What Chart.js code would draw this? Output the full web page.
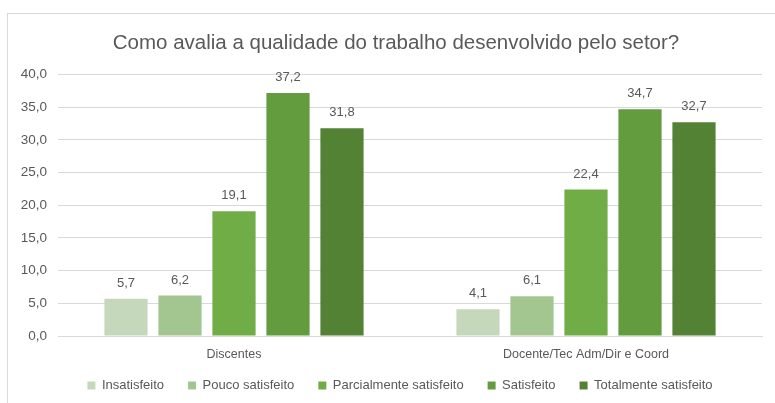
<!DOCTYPE html>
<html>
<head>
<meta charset="utf-8">
<script src="https://cdn.jsdelivr.net/npm/chart.js@4.4.0/dist/chart.umd.min.js"></script>
<style>
  html, body { margin: 0; padding: 0; background: #fff; }
  #wrap { width: 775px; height: 403px; }
</style>
</head>
<body>
<div id="wrap"><canvas id="graph" width="775" height="403"></canvas></div>
<script>
// chart data
let categories = ["Discentes", "Docente/Tec Adm/Dir e Coord"];
let seriesNames = ["Insatisfeito", "Pouco satisfeito", "Parcialmente satisfeito", "Satisfeito", "Totalmente satisfeito"];
let insatisfeito = [5.7, 4.1];
let poucoSatisfeito = [6.2, 6.1];
let parcialmente = [19.1, 22.4];
let satisfeito = [37.2, 34.7];
let totalmente = [31.8, 32.7];
let seriesColors = ["#C5D8BC", "#A3C690", "#70AD47", "#639B3F", "#548235"];

let txtColor = "#595959";
let fontName = "'Liberation Sans', Arial, sans-serif";

function fmt(v) {
    return v.toFixed(1).replace(".", ",");
}

// values written above each bar
let barLabels = {
    id: "barLabels",
    afterDatasetsDraw(chart) {
        let ctx = chart.ctx;
        ctx.save();
        ctx.fillStyle = txtColor;
        ctx.font = "13px " + fontName;
        ctx.textAlign = "center";
        ctx.textBaseline = "bottom";
        chart.data.datasets.forEach(function(ds, i) {
            chart.getDatasetMeta(i).data.forEach(function(bar, j) {
                ctx.fillText(fmt(ds.data[j]), bar.x, bar.y - 9);
            });
        });
        ctx.restore();
    }
};

// outer frame of the chart
let frame = {
    id: "frame",
    beforeDraw(chart) {
        let ctx = chart.ctx;
        ctx.save();
        ctx.fillStyle = "#fff";
        ctx.fillRect(0, 0, chart.width, chart.height);
        ctx.strokeStyle = "#D9D9D9";
        ctx.lineWidth = 1;
        ctx.strokeRect(7.5, 13.5, chart.width + 10, chart.height + 10);
        ctx.restore();
    }
};

// tighten the legend box and move title/legend so they center like the original
let legendShift = 10;
let boxTweak = {
    id: "boxTweak",
    afterInit(chart) {
        let leg = chart.legend;
        let origFit = leg.fit;
        leg.fit = function() {
            origFit.call(this);
            this.height = this.height - legendShift;
        };
    },
    afterLayout(chart) {
        chart.legend.top -= legendShift;
        chart.legend.bottom -= legendShift;
        chart.legend.left += 26;
        chart.titleBlock.left += 18;
    }
};

let allData = [insatisfeito, poucoSatisfeito, parcialmente, satisfeito, totalmente];

let data = {
    labels: categories,
    datasets: seriesNames.map(function(name, i) {
        return {
            label: name,
            data: allData[i],
            backgroundColor: seriesColors[i],
            categoryPercentage: 0.767,
            barPercentage: 0.8
        };
    })
};

let options = {
    responsive: false,
    animation: false,
    layout: { padding: { left: 12, right: 13, top: 31, bottom: 1 } },
    plugins: {
        title: {
            display: true,
            text: "Como avalia a qualidade do trabalho desenvolvido pelo setor?",
            color: txtColor,
            font: { family: fontName, size: 20.5, weight: "normal" },
            padding: { top: 0, bottom: 19 }
        },
        legend: {
            position: "bottom",
            labels: {
                color: txtColor,
                font: { family: fontName, size: 13 },
                boxWidth: 8,
                boxHeight: 8,
                padding: 24
            }
        },
        tooltip: { enabled: false }
    },
    scales: {
        x: {
            grid: { display: false },
            border: { color: "#D9D9D9" },
            ticks: { color: txtColor, font: { family: fontName, size: 12.5 }, padding: 3 }
        },
        y: {
            min: 0,
            max: 40,
            afterFit: function(scale) { scale.width = 46; },
            ticks: {
                stepSize: 5,
                color: txtColor,
                font: { family: fontName, size: 13.5 },
                padding: 11,
                callback: function(v) { return fmt(v); }
            },
            grid: { color: "#D9D9D9", drawTicks: false },
            border: { display: false }
        }
    }
};

let graph = new Chart(document.getElementById("graph").getContext("2d"), {
    type: "bar",
    data: data,
    options: options,
    plugins: [frame, boxTweak, barLabels]
});
</script>
</body>
</html>
